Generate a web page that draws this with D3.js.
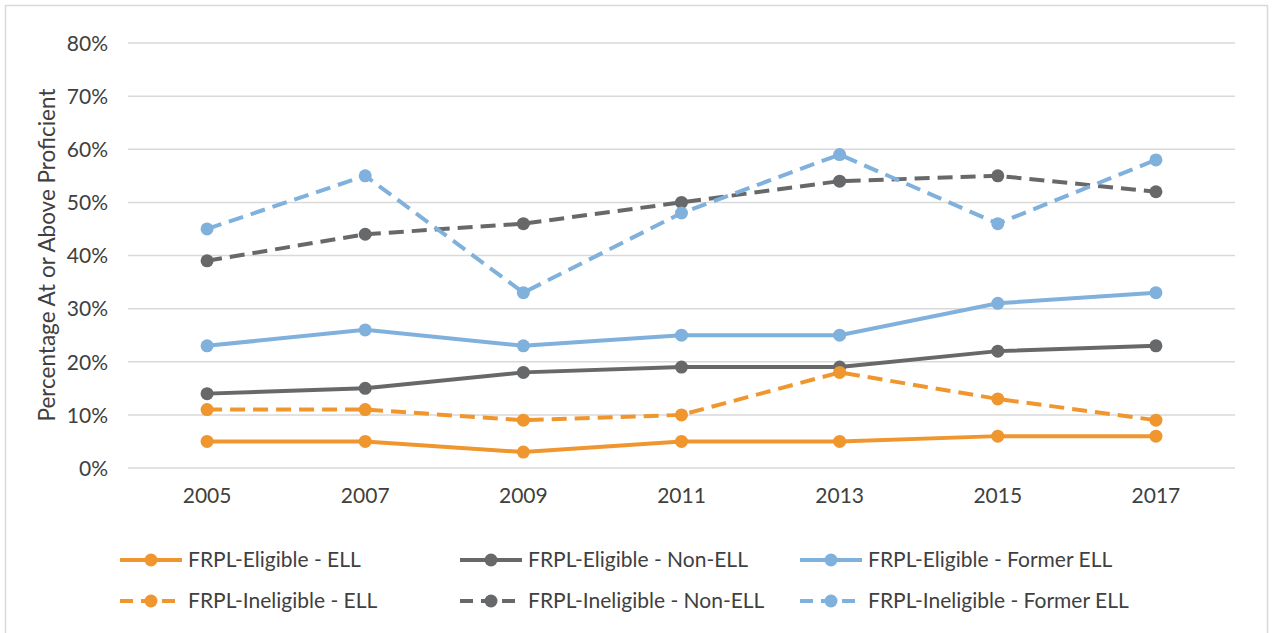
<!DOCTYPE html>
<html>
<head>
<meta charset="utf-8">
<script src="https://cdn.jsdelivr.net/npm/d3@7"></script>
<style>
  body { margin: 0; background: #fff; }
  text { font-family: Lato, "Open Sans", sans-serif; fill: #404040; }
</style>
</head>
<body>
<script>
// chart values
let years = ['2005', '2007', '2009', '2011', '2013', '2015', '2017'];
let yTicks = [0, 0.1, 0.2, 0.3, 0.4, 0.5, 0.6, 0.7, 0.8];
let seriesNames = ['FRPL-Eligible - ELL', 'FRPL-Eligible - Non-ELL', 'FRPL-Eligible - Former ELL',
                   'FRPL-Ineligible - ELL', 'FRPL-Ineligible - Non-ELL', 'FRPL-Ineligible - Former ELL'];
let eligEll = [5, 5, 3, 5, 5, 6, 6];
let eligNonEll = [14, 15, 18, 19, 19, 22, 23];
let eligFormer = [23, 26, 23, 25, 25, 31, 33];
let inelEll = [11, 11, 9, 10, 18, 13, 9];
let inelNonEll = [39, 44, 46, 50, 54, 55, 52];
let inelFormer = [45, 55, 33, 48, 59, 46, 58];

let orange = '#f0962f', grey = '#66686a', blue = '#7fb1dc';
let series = [
  { name: seriesNames[0], vals: eligEll, color: orange, dash: false },
  { name: seriesNames[1], vals: eligNonEll, color: grey, dash: false },
  { name: seriesNames[2], vals: eligFormer, color: blue, dash: false },
  { name: seriesNames[3], vals: inelEll, color: orange, dash: true },
  { name: seriesNames[4], vals: inelNonEll, color: grey, dash: true },
  { name: seriesNames[5], vals: inelFormer, color: blue, dash: true }
];

let svgWidth = 1272, svgHeight = 633;
let margin = { top: 43, left: 128, right: 37, bottom: 165 };

let svg = d3.select('body').append('svg')
  .attr('width', svgWidth)
  .attr('height', svgHeight);

// outer frame
svg.append('rect')
  .attr('x', 5.5).attr('y', 5.5)
  .attr('width', 1262).attr('height', 640)
  .attr('fill', 'none').attr('stroke', '#d9d9d9').attr('stroke-width', 1.5);

let xScale = d3.scaleBand()
  .domain(years)
  .range([margin.left, svgWidth - margin.right]);

let yScale = d3.scaleLinear()
  .domain([0, 0.8])
  .range([svgHeight - margin.bottom, margin.top]);

// gridlines
svg.append('g').selectAll('line')
  .data(yTicks)
  .enter().append('line')
    .attr('x1', margin.left).attr('x2', svgWidth - margin.right)
    .attr('y1', d => yScale(d)).attr('y2', d => yScale(d))
    .attr('stroke', '#d9d9d9').attr('stroke-width', 1.5);

// y axis labels
let yAxis = svg.append('g')
  .attr('transform', 'translate(' + (margin.left - 20) + ',0)')
  .call(d3.axisLeft(yScale).tickValues(yTicks).tickFormat(d3.format('.0%')).tickSize(0));
yAxis.select('.domain').remove();
yAxis.selectAll('text').style('font-size', '21px').attr('fill', '#404040').attr('dy', '0.35em').attr('x', 0);

// x axis labels
let xAxis = svg.append('g')
  .attr('transform', 'translate(0,' + (yScale(0) + 20) + ')')
  .call(d3.axisBottom(xScale).tickSize(0));
xAxis.select('.domain').remove();
xAxis.selectAll('text').style('font-size', '21px').attr('fill', '#404040').attr('dy', '0.71em').attr('y', 0);

// y axis title
svg.append('text')
  .attr('transform', 'translate(55,' + 255 + ') rotate(-90)')
  .attr('text-anchor', 'middle')
  .style('font-size', '22.5px')
  .text('Percentage At or Above Proficient');

let line = d3.line()
  .x((d, i) => xScale(years[i]) + xScale.bandwidth() / 2)
  .y(d => yScale(d / 100));

let lines = svg.append('g').selectAll('g')
  .data(series)
  .enter().append('g');

lines.append('path')
  .attr('d', d => line(d.vals))
  .attr('fill', 'none')
  .attr('stroke', d => d.color)
  .attr('stroke-width', 4)
  .attr('stroke-dasharray', d => d.dash ? '15,8' : null);

lines.selectAll('circle')
  .data(d => d.vals.map(v => ({ v: v, color: d.color })))
  .enter().append('circle')
    .attr('cx', (d, i) => xScale(years[i]) + xScale.bandwidth() / 2)
    .attr('cy', d => yScale(d.v / 100))
    .attr('r', 6.5)
    .attr('fill', d => d.color);

// legend
let legendX = [120, 460, 800];
let legendY = [560, 601];
let legend = svg.append('g').selectAll('g')
  .data(series)
  .enter().append('g')
    .attr('transform', (d, i) => 'translate(' + legendX[i % 3] + ',' + legendY[Math.floor(i / 3)] + ')');

legend.append('line')
  .attr('x1', 0).attr('x2', 62)
  .attr('stroke', d => d.color)
  .attr('stroke-width', 4)
  .attr('stroke-dasharray', d => d.dash ? '13,8' : null);
legend.append('circle')
  .attr('cx', 31).attr('r', 6.5)
  .attr('fill', d => d.color);
legend.append('text')
  .attr('x', 68).attr('dy', '0.35em')
  .style('font-size', '21px')
  .text(d => d.name);
</script>
</body>
</html>
